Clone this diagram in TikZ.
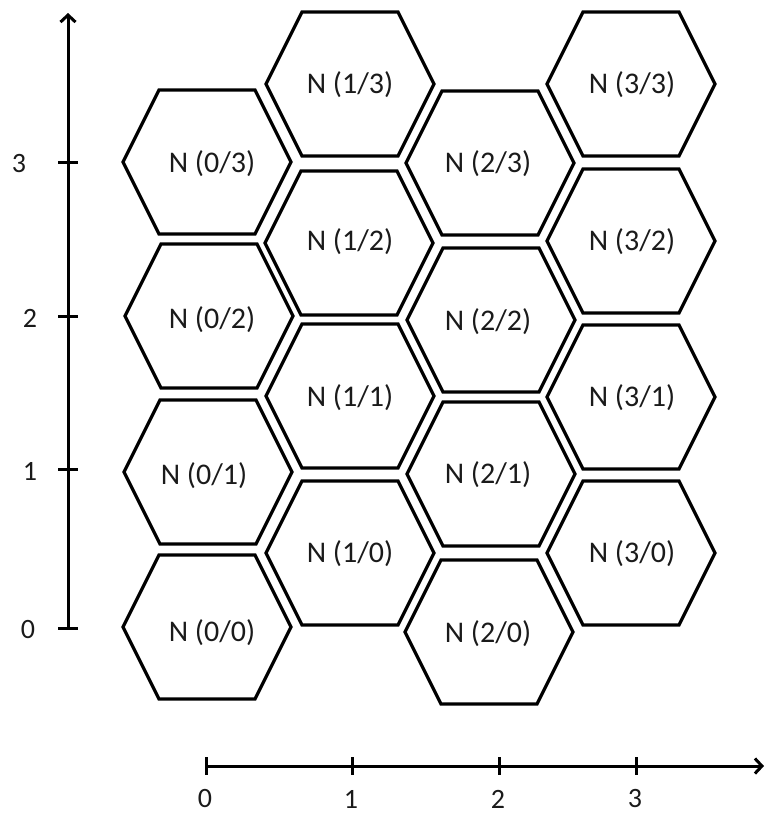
\documentclass[tikz,border=0pt]{standalone}
\usepackage{fontspec}
\setmainfont{Carlito}
\usetikzlibrary{arrows.meta}
\definecolor{ink}{HTML}{1A1A1A}
% one hexagonal cell: #1 id, #2 hexagon centre, #3 label position, #4 label
\newcommand\hexcell[4]{%
  \coordinate (h#1) at (#2);
  \draw[hexline] (h#1) ++(-84,0) -- ++(36,-72) -- ++(96,0) -- ++(36,72)
        -- ++(-36,72) -- ++(-96,0) -- cycle;
  \node[celltext] (n#1) at (#3) {N (#4)};}
\begin{document}
\begin{tikzpicture}[x=1pt,y=-1pt,
  hexline/.style={line width=3.2pt, line join=miter},
  celltext/.style={font=\fontsize{30}{35}\selectfont, text=ink, inner sep=0pt},
  axislabel/.style={font=\fontsize{28}{32}\selectfont, text=ink, inner sep=0pt},
  axisline/.style={line width=3pt},
  tickline/.style={line width=3pt},
  axistip/.style={-{Straight Barb[length=7pt,width=15pt,line width=3pt]}}]
\useasboundingbox (0,0) rectangle (764,814);

% column 0
\hexcell{00}{207,627}{212,633}{0/0}
\hexcell{01}{208,472}{204,476}{0/1}
\hexcell{02}{209,316}{212,320}{0/2}
\hexcell{03}{207,162}{212,164}{0/3}
% column 1
\hexcell{10}{350,553}{350,554}{1/0}
\hexcell{11}{350,396}{350,398}{1/1}
\hexcell{12}{349,243}{350,242}{1/2}
\hexcell{13}{350,84}{350,85}{1/3}
% column 2
\hexcell{20}{489,632}{488,634}{2/0}
\hexcell{21}{491,474}{488,475}{2/1}
\hexcell{22}{491,320}{488,322}{2/2}
\hexcell{23}{490,163}{488,164}{2/3}
% column 3
\hexcell{30}{631,553}{632,554}{3/0}
\hexcell{31}{631,397}{632,398}{3/1}
\hexcell{32}{631,241}{632,242}{3/2}
\hexcell{33}{631,84}{632,85}{3/3}

% vertical axis
\coordinate (yo) at (68,628);
\coordinate (ytop) at (68,13);
\draw[axisline,axistip] (yo) -- (ytop);
\foreach \v/\yy/\lx in {0/628/28, 1/469/30, 2/316/30, 3/162/19} {
  \coordinate (yt\v) at (68,\yy);
  \draw[tickline] (yt\v) ++(-10,0) -- ++(20,0);
  \node[axislabel] (yl\v) at (\lx,\yy+2) {\v};
}

% horizontal axis
\coordinate (xo) at (206,766);
\coordinate (xend) at (764,766);
\draw[axisline,axistip] (xo) -- (xend);
\foreach \v/\xx in {0/206, 1/352, 2/499, 3/636} {
  \coordinate (xt\v) at (\xx,766);
  \draw[tickline] (xt\v) ++(0,-9) -- ++(0,18);
  \node[axislabel] (xl\v) at (\xx-1,799) {\v};
}
\end{tikzpicture}
\end{document}
